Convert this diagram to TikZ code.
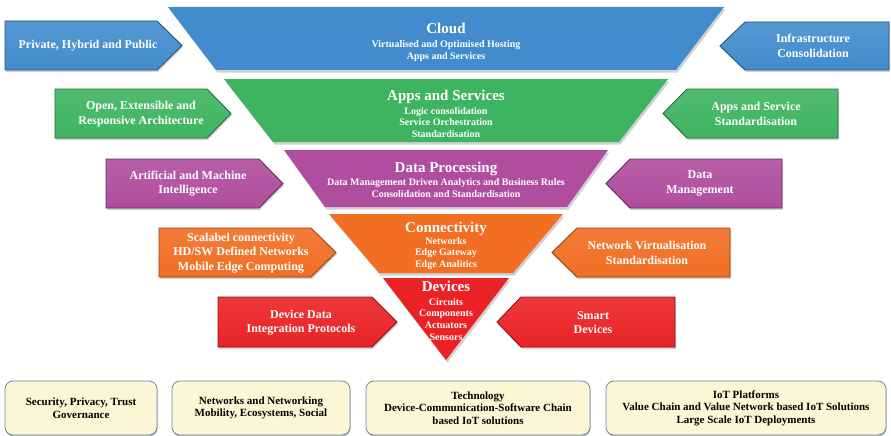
\documentclass[tikz,border=0pt]{standalone}
\usepackage{fontspec}
\setmainfont{Liberation Serif}
\usetikzlibrary{positioning}
\definecolor{cloudblue}{RGB}{66,140,205}
\definecolor{appsgreen}{RGB}{62,180,96}
\definecolor{procpurple}{RGB}{176,77,158}
\definecolor{connorange}{RGB}{241,110,35}
\definecolor{devred}{RGB}{234,34,38}
\definecolor{basecream}{RGB}{253,246,212}
\definecolor{baseedge}{RGB}{105,135,165}

\tikzset{
  layer/.style={fill=#1, preaction={fill=black!18, transform canvas={shift={(1.5pt,-2.5pt)}}}},
  sidearrow/.style={top color=#1!90!white, bottom color=#1, draw=#1!60!black, line width=0.9pt,
    preaction={fill=black!18, transform canvas={shift={(1pt,-2pt)}}}},
  layertitle/.style={text=white, inner sep=0pt, font=\bfseries\fontsize{15}{17}\selectfont},
  layersub/.style={text=white, inner sep=0pt, align=center, font=\bfseries\fontsize{10}{11.8}\selectfont},
  arrowtext/.style={text=white, inner sep=0pt, align=center, font=\bfseries\fontsize{12}{14.5}\selectfont},
  basebox/.style={draw=baseedge, fill=basecream, line width=0.8pt, rounded corners=8pt, align=center,
    minimum height=54pt, inner sep=0pt, font=\bfseries\fontsize{11}{12.5}\selectfont,
    preaction={fill=black!25, transform canvas={shift={(0.5pt,-1.5pt)}}}}
}

\begin{document}
\begin{tikzpicture}[x=1pt,y=-1pt]
\useasboundingbox (0,0) rectangle (891,436);

% funnel layers
\fill[layer=cloudblue] (168,7) -- (724,7) -- (676,70) -- (216,70) -- cycle;
\fill[layer=appsgreen] (224,79) -- (668,79) -- (619,142) -- (273,142) -- cycle;
\fill[layer=procpurple] (284,150) -- (608,150) -- (567,207) -- (325,207) -- cycle;
\fill[layer=connorange] (329,214) -- (563,214) -- (513,273) -- (379,273) -- cycle;
\fill[layer=devred] (383,278) -- (509,278) -- (446,360) -- cycle;

\node[layertitle, anchor=base] (cloud) at (446,34) {Cloud};
\node[layersub, below=6.5pt of cloud.base] (cloudsub) {Virtualised and Optimised Hosting\\Apps and Services};
\node[layertitle, anchor=base] (apps) at (446,100) {Apps and Services};
\node[layersub, below=7pt of apps.base] (appssub) {Logic consolidation\\Service Orchestration\\Standardisation};
\node[layertitle, anchor=base] (proc) at (446,172) {Data Processing};
\node[layersub, below=6.5pt of proc.base] (procsub) {Data Management Driven Analytics and Business Rules\\Consolidation and Standardisation};
\node[layertitle, anchor=base] (conn) at (446,232) {Connectivity};
\node[layersub, below=5pt of conn.base] (connsub) {Networks\\Edge Gateway\\Edge Analitics};
\node[layertitle, anchor=base] (dev) at (446,291) {Devices};
\node[layersub, below=7pt of dev.base] (devsub) {Circuits\\Components\\Actuators\\Sensors};

% left arrows
\path[sidearrow=cloudblue] (5,21) -- (157,21) -- (182,45.5) -- (157,70) -- (5,70) -- cycle;
\path[sidearrow=appsgreen] (55,89) -- (207,89) -- (231,113.5) -- (207,138) -- (55,138) -- cycle;
\path[sidearrow=procpurple] (106,159) -- (259,159) -- (283,183.5) -- (259,208) -- (106,208) -- cycle;
\path[sidearrow=connorange] (159,228) -- (311,228) -- (336,252.5) -- (311,277) -- (159,277) -- cycle;
\path[sidearrow=devred] (218,297) -- (372,297) -- (397,322) -- (372,347) -- (218,347) -- cycle;

\node[arrowtext] (hosting) at (88,45.5) {Private, Hybrid and Public};
\node[arrowtext] (openarch) at (141,114) {Open, Extensible and\\Responsive Architecture};
\node[arrowtext] (aimi) at (188,183.5) {Artificial and Machine\\Intelligence};
\node[arrowtext] (scalable) at (241,253) {Scalabel connectivity\\HD/SW Defined Networks\\Mobile Edge Computing};
\node[arrowtext] (integration) at (301,322.5) {Device Data\\Integration Protocols};

% right arrows
\path[sidearrow=cloudblue] (889,22) -- (745,22) -- (720,46) -- (745,70) -- (889,70) -- cycle;
\path[sidearrow=appsgreen] (838,89) -- (687,89) -- (663,113.5) -- (687,138) -- (838,138) -- cycle;
\path[sidearrow=procpurple] (782,159) -- (630,159) -- (606,183.5) -- (630,208) -- (782,208) -- cycle;
\path[sidearrow=connorange] (730,228) -- (577,228) -- (552,252.5) -- (577,277) -- (730,277) -- cycle;
\path[sidearrow=devred] (675,297) -- (521,297) -- (497,322) -- (521,347) -- (675,347) -- cycle;

\node[arrowtext] (infra) at (813,46) {Infrastructure\\Consolidation};
\node[arrowtext] (appsstd) at (756,114) {Apps and Service\\Standardisation};
\node[arrowtext] (datamgmt) at (700,183.5) {Data\\Management};
\node[arrowtext] (netvirt) at (647,253) {Network Virtualisation\\Standardisation};
\node[arrowtext] (smart) at (593,322.5) {Smart\\Devices};

% cross-cutting topics
\node[basebox, minimum width=152pt] (security) at (81,408) {Security, Privacy, Trust\\Governance};
\node[basebox, minimum width=178pt] (networking) at (261,408) {Networks and Networking\\Mobility, Ecosystems, Social};
\node[basebox, minimum width=224pt] (technology) at (478,408) {Technology\\Device-Communication-Software Chain\\based IoT solutions};
\node[basebox, minimum width=280pt] (platforms) at (746,408) {IoT Platforms\\Value Chain and Value Network based IoT Solutions\\Large Scale IoT Deployments};
\end{tikzpicture}
\end{document}
